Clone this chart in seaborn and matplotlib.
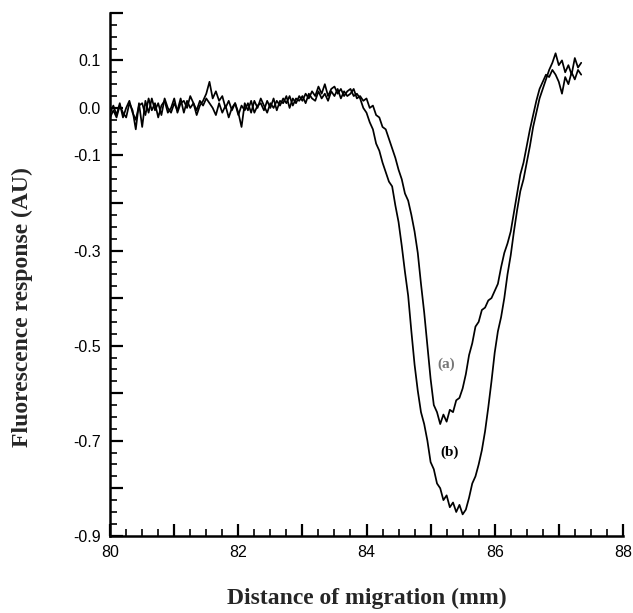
import numpy as np
import pandas as pd
import matplotlib
matplotlib.use("Agg")
import matplotlib.pyplot as plt
import seaborn as sns
from matplotlib.ticker import MultipleLocator

# distance of migration (mm), sampled every 0.05 mm
distance = [
    80.00, 80.05, 80.10, 80.15, 80.20, 80.25, 80.30, 80.35, 80.40, 80.45,
    80.50, 80.55, 80.60, 80.65, 80.70, 80.75, 80.80, 80.85, 80.90, 80.95,
    81.00, 81.05, 81.10, 81.15, 81.20, 81.25, 81.30, 81.35, 81.40, 81.45,
    81.50, 81.55, 81.60, 81.65, 81.70, 81.75, 81.80, 81.85, 81.90, 81.95,
    82.00, 82.05, 82.10, 82.15, 82.20, 82.25, 82.30, 82.35, 82.40, 82.45,
    82.50, 82.55, 82.60, 82.65, 82.70, 82.75, 82.80, 82.85, 82.90, 82.95,
    83.00, 83.05, 83.10, 83.15, 83.20, 83.25, 83.30, 83.35, 83.40, 83.45,
    83.50, 83.55, 83.60, 83.65, 83.70, 83.75, 83.80, 83.85, 83.90, 83.95,
    84.00, 84.05, 84.10, 84.15, 84.20, 84.25, 84.30, 84.35, 84.40, 84.45,
    84.50, 84.55, 84.60, 84.65, 84.70, 84.75, 84.80, 84.85, 84.90, 84.95,
    85.00, 85.05, 85.10, 85.15, 85.20, 85.25, 85.30, 85.35, 85.40, 85.45,
    85.50, 85.55, 85.60, 85.65, 85.70, 85.75, 85.80, 85.85, 85.90, 85.95,
    86.00, 86.05, 86.10, 86.15, 86.20, 86.25, 86.30, 86.35, 86.40, 86.45,
    86.50, 86.55, 86.60, 86.65, 86.70, 86.75, 86.80, 86.85, 86.90, 86.95,
    87.00, 87.05, 87.10, 87.15, 87.20, 87.25, 87.30, 87.35,
]

# fluorescence response (AU), trace (a)
response_a = [
    -0.010, 0.005, -0.015, 0.010, -0.020, 0.000, 0.015, -0.010, -0.025, 0.005,
    0.010, -0.015, 0.020, -0.005, 0.010, -0.020, 0.005, 0.015, -0.010, 0.000,
    0.020, -0.010, 0.010, 0.015, 0.000, 0.025, 0.010, -0.005, 0.015, 0.005,
    0.020, 0.010, 0.000, -0.015, 0.010, -0.010, 0.005, -0.020, 0.000, 0.010,
    -0.015, 0.005, -0.005, 0.010, -0.010, 0.015, 0.000, 0.020, 0.005, -0.010,
    0.010, 0.000, 0.015, 0.005, 0.020, 0.010, 0.025, 0.005, 0.020, 0.015,
    0.025, 0.010, 0.030, 0.020, 0.015, 0.035, 0.020, 0.030, 0.015, 0.035,
    0.025, 0.040, 0.020, 0.035, 0.025, 0.030, 0.040, 0.020, 0.025, 0.015,
    0.020, 0.000, 0.005, -0.015, -0.020, -0.040, -0.045, -0.065, -0.085, -0.105,
    -0.130, -0.150, -0.180, -0.195, -0.225, -0.260, -0.305, -0.370, -0.430, -0.500,
    -0.570, -0.625, -0.640, -0.665, -0.645, -0.660, -0.635, -0.640, -0.615, -0.610,
    -0.590, -0.560, -0.520, -0.495, -0.460, -0.450, -0.425, -0.420, -0.405, -0.400,
    -0.385, -0.370, -0.335, -0.305, -0.285, -0.260, -0.220, -0.180, -0.140, -0.115,
    -0.080, -0.045, -0.015, 0.015, 0.040, 0.055, 0.070, 0.065, 0.080, 0.070,
    0.055, 0.030, 0.065, 0.050, 0.075, 0.060, 0.080, 0.070,
]

# fluorescence response (AU), trace (b)
response_b = [
    -0.020, -0.005, -0.020, 0.005, -0.010, -0.020, 0.010, -0.005, -0.045, 0.010,
    -0.040, 0.015, -0.010, 0.020, -0.005, 0.010, -0.015, 0.020, 0.000, -0.010,
    0.010, -0.005, 0.020, -0.010, 0.015, 0.000, 0.010, -0.015, 0.005, 0.015,
    0.030, 0.055, 0.020, 0.035, 0.015, 0.025, 0.000, 0.015, -0.005, 0.010,
    -0.010, -0.040, 0.010, -0.005, 0.015, -0.010, 0.005, 0.010, -0.005, 0.015,
    0.000, 0.020, -0.005, 0.015, 0.010, 0.025, 0.000, 0.020, 0.010, 0.025,
    0.015, 0.030, 0.020, 0.035, 0.025, 0.045, 0.030, 0.050, 0.025, 0.040,
    0.045, 0.030, 0.040, 0.025, 0.035, 0.040, 0.025, 0.030, 0.020, 0.000,
    -0.010, -0.030, -0.045, -0.075, -0.090, -0.115, -0.135, -0.155, -0.165, -0.205,
    -0.240, -0.290, -0.345, -0.395, -0.470, -0.540, -0.595, -0.640, -0.665, -0.700,
    -0.745, -0.760, -0.790, -0.800, -0.825, -0.815, -0.840, -0.830, -0.850, -0.835,
    -0.855, -0.845, -0.820, -0.790, -0.775, -0.750, -0.720, -0.680, -0.630, -0.575,
    -0.515, -0.470, -0.440, -0.400, -0.350, -0.310, -0.260, -0.215, -0.175, -0.150,
    -0.115, -0.080, -0.040, -0.010, 0.020, 0.040, 0.060, 0.080, 0.095, 0.115,
    0.090, 0.100, 0.075, 0.090, 0.070, 0.105, 0.085, 0.095,
]

y_ticks = [-0.9, -0.8, -0.7, -0.6, -0.5, -0.4, -0.3, -0.2, -0.1, 0.0, 0.1, 0.2]
y_tick_labels = ["-0.9", "", "-0.7", "", "-0.5", "", "-0.3", "", "-0.1", "0.0", "0.1", ""]
x_ticks = [80, 82, 84, 86, 88]
x_long_unlabelled = [81, 83, 85, 87]

df = pd.concat([
    pd.DataFrame({"distance": distance, "response": response_a, "trace": "(a)"}),
    pd.DataFrame({"distance": distance, "response": response_b, "trace": "(b)"}),
])

sns.set_style("ticks")
plt.rcParams["font.family"] = ["Liberation Sans", "DejaVu Sans"]

fig = plt.figure(figsize=(6.33, 6.13), dpi=100)
ax = fig.add_axes([0.174, 0.126, 0.81, 0.853])

sns.lineplot(data=df, x="distance", y="response", hue="trace",
             palette=["black", "black"], estimator=None, sort=False,
             linewidth=1.25, legend=False, ax=ax)

ax.set_xlim(80, 88)
ax.set_ylim(-0.9, 0.2)
ax.set_xticks(x_ticks)
ax.xaxis.set_minor_locator(MultipleLocator(0.25))
ax.set_yticks(y_ticks)
ax.set_yticklabels(y_tick_labels)
ax.yaxis.set_minor_locator(MultipleLocator(0.025))

# long unlabelled x ticks every 1 mm
for xv in x_long_unlabelled:
    ax.plot([xv, xv], [-0.9, -0.9 + 12 / 475], color="black", lw=1.6,
            clip_on=False, solid_capstyle="butt")

ax.tick_params(which="major", direction="in", length=9, width=1.6,
               labelsize=11.5, colors="black", pad=7)
ax.tick_params(which="minor", direction="in", length=5, width=1.4)
sns.despine(ax=ax)
for s in ["left", "bottom"]:
    ax.spines[s].set_linewidth(1.8)
    ax.spines[s].set_color("black")

lab_font = dict(family="Liberation Serif", fontweight="bold", fontsize=17)
ax.set_xlabel("Distance of migration (mm)", **lab_font)
ax.set_ylabel("Fluorescence response (AU)", **lab_font)
ax.xaxis.set_label_coords(0.5, -0.1)
ax.yaxis.set_label_coords(-0.15, 0.438)

ax.text(85.25, -0.54, "(a)", color="#777777", family="Liberation Serif",
        fontweight="bold", fontsize=11, ha="center", va="center")
ax.text(85.30, -0.725, "(b)", color="black", family="Liberation Serif",
        fontweight="bold", fontsize=11, ha="center", va="center")

fig.savefig("out.png", dpi=100)
